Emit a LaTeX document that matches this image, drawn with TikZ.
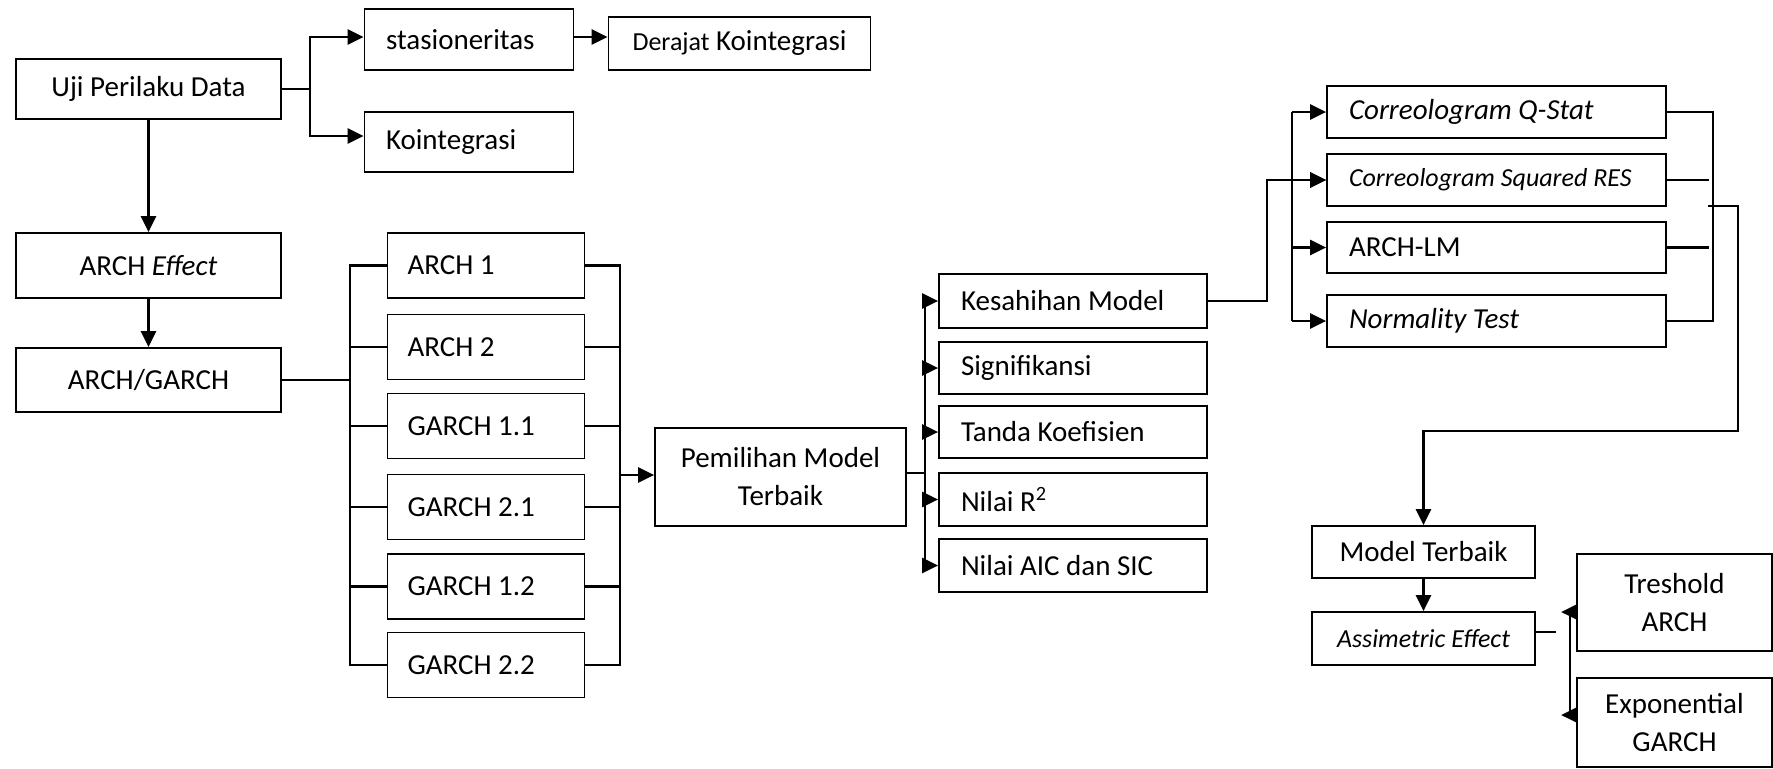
\documentclass[tikz,border=0pt]{standalone}
\usepackage{fontspec}
\setmainfont{Carlito}
\usetikzlibrary{arrows.meta}

\begin{document}
\begin{tikzpicture}[x=0.5pt,y=-0.5pt,
    box/.style={draw, line width=0.9pt, inner sep=0pt, font=\fontsize{14.5}{19}\selectfont},
    cbox/.style 2 args={box, align=flush center, minimum width=#1, minimum height=#2},
    lbox/.style n args={3}{box, align=flush left, text width=#1, inner xsep=#2, minimum height=#3},
    ln/.style={line width=1.2pt},
    arr/.style={ln, -{Triangle[length=8pt,width=7.5pt]}}]
		\useasboundingbox (0,0) rectangle (1773,768);
		\node (uji) [cbox={132.5pt}{30pt}] at (148.5,89) {Uji Perilaku Data};
		\node (stas) [lbox={83pt}{10.75pt}{30.5pt}] at (469,39.5) {stasioneritas};
		\node (der) [cbox={131pt}{26.5pt}] at (739.5,43.5) {{\fontsize{13}{15}\selectfont Derajat} Kointegrasi};
		\node (koin) [lbox={83pt}{10.75pt}{30pt}] at (469,142) {Kointegrasi};
		\node (eff) [cbox={132.5pt}{32.5pt}] at (148.5,265.5) {ARCH \textit{Effect}};
		\node (ag) [cbox={132.5pt}{32pt}] at (148.5,380) {ARCH/GARCH};
		\node (a1) [lbox={78.5pt}{10pt}{32.5pt}] at (486,265.5) {ARCH 1};
		\node (a2) [lbox={78.5pt}{10pt}{32.5pt}] at (486,347) {ARCH 2};
		\node (g11) [lbox={78.5pt}{10pt}{32.5pt}] at (486,426) {GARCH 1.1};
		\node (g21) [lbox={78.5pt}{10pt}{32.5pt}] at (486,507) {GARCH 2.1};
		\node (g12) [lbox={78.5pt}{10pt}{32.5pt}] at (486,586.5) {GARCH 1.2};
		\node (g22) [lbox={78.5pt}{10pt}{32.5pt}] at (486,665) {GARCH 2.2};
		\node (pm) [cbox={125.5pt}{49pt}] at (780.5,477) {Pemilihan Model\\Terbaik};
		\node (kes) [lbox={112pt}{11pt}{27pt}] at (1073,301) {Kesahihan Model};
		\node (sig) [lbox={112pt}{11pt}{26pt}] at (1073,368) {Signifikansi};
		\node (tk) [lbox={112pt}{11pt}{26pt}] at (1073,432) {Tanda Koefisien};
		\node (r2) [lbox={112pt}{11pt}{26.5pt}] at (1073,499.5) {Nilai R\textsuperscript{2}};
		\node (aic) [lbox={112pt}{11pt}{26.5pt}] at (1073,565.5) {Nilai AIC dan SIC};
		\node (qs) [lbox={147.5pt}{11pt}{26pt}] at (1496.5,112) {\textit{Correologram Q-Stat}};
		\node (sq) [lbox={147.5pt}{11pt}{26pt}] at (1496.5,180) {\fontsize{13}{15}\selectfont\itshape Correologram Squared RES};
		\node (lm) [lbox={147.5pt}{11pt}{25.5pt}] at (1496.5,247.5) {ARCH-LM};
		\node (nt) [lbox={147.5pt}{11pt}{26pt}] at (1496.5,321) {\textit{Normality Test}};
		\node (mt) [cbox={111.5pt}{26pt}] at (1423.5,552) {Model Terbaik};
		\node (ae) [cbox={111.5pt}{26.5pt}] at (1423.5,638.5) {\fontsize{13}{15}\selectfont\itshape Assimetric Effect};
		\node (ta) [cbox={97.5pt}{48.5pt}] at (1674.5,602.5) {Treshold\\ARCH};
		\node (eg) [cbox={97.5pt}{44.5pt}] at (1674.5,722.5) {Exponential\\GARCH};
		\coordinate (b1) at (310,89);
		\coordinate (lb) at (350,380);
		\coordinate (rb) at (620,475);
		\coordinate (kb) at (925,473);
		\coordinate (cb) at (1292,112);
		\coordinate (rc) at (1713,112);
		\coordinate (o1) at (1708,206);
		\coordinate (o2) at (1738,431);
		\coordinate (v1) at (1570,613);
		\coordinate (v2) at (1570,713);
		\draw[ln] (uji.east) -- (b1);
		\draw[arr] (b1) |- ([yshift=1.25pt]stas.west);
		\draw[arr] (b1) |- ([yshift=3pt]koin.west);
		\draw[arr] ([yshift=1.25pt]stas.east) -- ([yshift=1.25pt]stas.east -| der.west);
		\draw[arr] (uji) -- (eff);
		\draw[arr] (eff) -- (ag);
		\draw[ln] (ag) -- (lb);
		\draw[ln] (a1.west) -| (lb |- g22.west) -- (g22.west);
		\draw[ln] (a2.west) -- (a2.west -| lb);
		\draw[ln] (g11.west) -- (g11.west -| lb);
		\draw[ln] (g21.west) -- (g21.west -| lb);
		\draw[ln] (g12.west) -- (g12.west -| lb);
		\draw[ln] (a1.east) -| (rb |- g22.east) -- (g22.east);
		\draw[ln] (a2.east) -- (a2.east -| rb);
		\draw[ln] (g11.east) -- (g11.east -| rb);
		\draw[ln] (g21.east) -- (g21.east -| rb);
		\draw[ln] (g12.east) -- (g12.east -| rb);
		\draw[arr] (rb) -- (rb -| pm.west);
		\draw[ln] (pm.east |- kb) -- (kb);
		\draw[ln] ([yshift=2pt]kb |- kes.west) -- ([yshift=-2.5pt]kb |- aic.west);
		\draw[arr] (kb |- kes.west) -- (kes.west);
		\draw[arr] (kb |- sig.west) -- (sig.west);
		\draw[arr] (kb |- tk.west) -- (tk.west);
		\draw[arr] (kb |- r2.west) -- (r2.west);
		\draw[arr] (kb |- aic.west) -- (aic.west);
		\draw[arr] (kes.east) -- ++(29.5pt,0) |- (sq.west);
		\draw[ln] (cb |- qs.west) -- (cb |- nt.west);
		\draw[arr] (cb |- qs.west) -- (qs.west);
		\draw[arr] (cb |- sq.west) -- (sq.west);
		\draw[arr] (cb |- lm.west) -- (lm.west);
		\draw[arr] (cb |- nt.west) -- (nt.west);
		\draw[ln] (qs.east) -| (rc |- nt.east) -- (nt.east);
		\draw[ln] (sq.east) -- ++(21pt,0);
		\draw[ln] (lm.east) -- ++(21pt,0);
		\draw[arr] (o1) -| (o2) -| (mt.north);
		\draw[arr] (mt) -- (ae);
		\draw[ln] ([yshift=3.25pt]ae.east) -- ++(10pt,0);
		\draw[ln] (v1) -- (v2);
		\draw[arr] ([yshift=-4.75pt]ta.west) -- ++(-7.5pt,0);
		\draw[arr] ([yshift=3.75pt]eg.west) -- ++(-7.5pt,0);
\end{tikzpicture}
\end{document}
